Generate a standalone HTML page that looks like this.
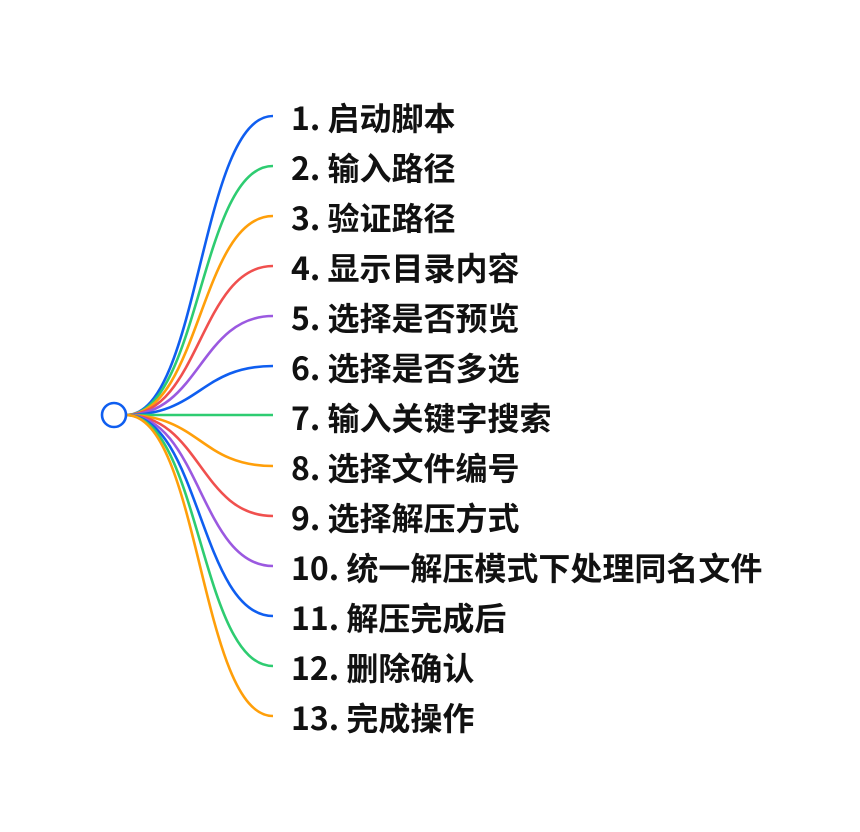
<!DOCTYPE html>
<html><head><meta charset="utf-8"><style>
html,body{margin:0;padding:0;background:#fff;}
svg{display:block}
text{font-family:"Noto Sans CJK SC","Liberation Sans",sans-serif;font-weight:bold;font-size:32px;fill:#111;}
</style></head><body>
<svg width="860" height="832" viewBox="0 0 860 832" xmlns="http://www.w3.org/2000/svg">
<g fill="none" stroke-width="2.6">
<path d="M126 415 C200 415 200 116 273 116" stroke="#0f5ef0"/>
<path d="M126 415 C200 415 200 166 273 166" stroke="#2ecc71"/>
<path d="M126 415 C200 415 200 216 273 216" stroke="#ff9f0a"/>
<path d="M126 415 C200 415 200 266 273 266" stroke="#f0504e"/>
<path d="M126 415 C200 415 200 316 273 316" stroke="#9b59e0"/>
<path d="M126 415 C200 415 200 366 273 366" stroke="#0f5ef0"/>
<path d="M126 415 L273 415" stroke="#2ecc71"/>
<path d="M126 415 C200 415 200 466 273 466" stroke="#ff9f0a"/>
<path d="M126 415 C200 415 200 516 273 516" stroke="#f0504e"/>
<path d="M126 415 C200 415 200 566 273 566" stroke="#9b59e0"/>
<path d="M126 415 C200 415 200 616 273 616" stroke="#0f5ef0"/>
<path d="M126 415 C200 415 200 666 273 666" stroke="#2ecc71"/>
<path d="M126 415 C200 415 200 716 273 716" stroke="#ff9f0a"/>
</g>
<circle cx="114" cy="415" r="12" fill="#fff" stroke="#0f5ef0" stroke-width="2.6"/>
<text x="291" y="130">1. 启动脚本</text>
<text x="291" y="180">2. 输入路径</text>
<text x="291" y="230">3. 验证路径</text>
<text x="291" y="280">4. 显示目录内容</text>
<text x="291" y="330">5. 选择是否预览</text>
<text x="291" y="380">6. 选择是否多选</text>
<text x="291" y="430">7. 输入关键字搜索</text>
<text x="291" y="480">8. 选择文件编号</text>
<text x="291" y="530">9. 选择解压方式</text>
<text x="291" y="580">10. 统一解压模式下处理同名文件</text>
<text x="291" y="630">11. 解压完成后</text>
<text x="291" y="680">12. 删除确认</text>
<text x="291" y="730">13. 完成操作</text>
</svg>
</body></html>
